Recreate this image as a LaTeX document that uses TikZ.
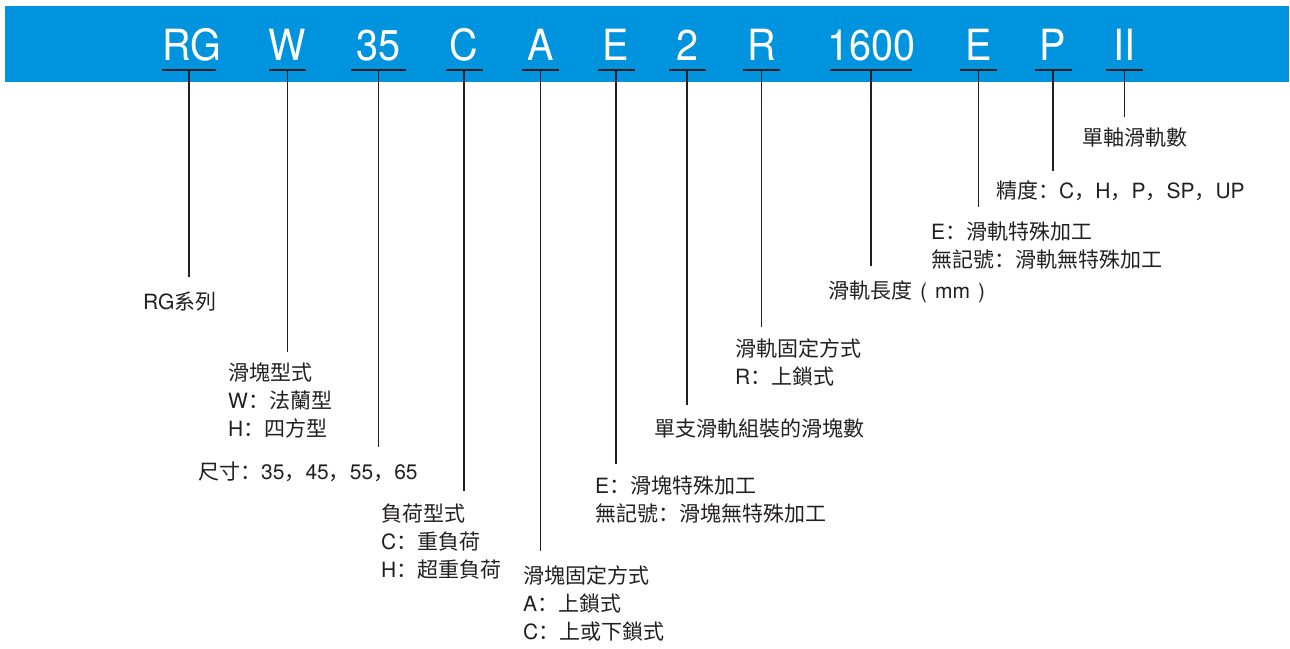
\documentclass[tikz,border=0pt]{standalone}
\usepackage{fontspec}
\setmainfont{TeX Gyre Heros}
\newfontfamily\cjkf{Noto Sans CJK TC}
\newfontfamily\cjkp{Noto Sans CJK SC}
\newfontfamily\barf[FakeStretch=0.92]{TeX Gyre Heros}
\newcommand\zh[1]{{\cjkf #1}}
\newcommand\cln{{\cjkp ：}}
\newcommand\cma{{\cjkp ，}}
\definecolor{barblue}{RGB}{0,148,222}
\definecolor{ink}{HTML}{231F20}
\tikzset{
  codetext/.style={text=white, font=\barf\fontsize{43}{43}\selectfont, inner sep=0pt, anchor=base},
  uline/.style={fill=ink, inner sep=0pt, minimum height=2pt, minimum width=#1},
  uline/.default=37pt,
  lab/.style={text=ink, font=\fontsize{21}{28}\selectfont, inner xsep=0pt, inner ysep=0pt, anchor=base west},
  conn/.style={draw=ink, line width=1.2pt},
}
\begin{document}
\begin{tikzpicture}[x=1pt,y=1pt]
\useasboundingbox (0,0) rectangle (1290,-648);
\fill[barblue] (5,-6) rectangle (1289,-81.5);

% code letters
\node[codetext] (c1) at (191.5,-60) {RG};
\node[codetext] (c2) at (287.5,-60) {W};
\node[codetext] (c3) at (378.5,-60) {35};
\node[codetext] (c4) at (464,-60) {C};
\node[codetext] (c5) at (540.5,-60) {A};
\node[codetext] (c6) at (616,-60) {E};
\node[codetext] (c7) at (687,-60) {2};
\node[codetext] (c8) at (761.5,-60) {R};
\node[codetext] (c9) at (871,-60) {1600};
\node[codetext] (c10) at (978.5,-60) {E};
\node[codetext] (c11) at (1053,-60) {P};
\node[codetext] (c12) at (1124.5,-60) {II};

% underlines
\node[uline=54pt] (u1) at (189,-70) {};
\node[uline] (u2) at (287.5,-70) {};
\node[uline=55pt] (u3) at (378.5,-70) {};
\node[uline] (u4) at (464,-70) {};
\node[uline] (u5) at (540.5,-70) {};
\node[uline] (u6) at (616,-70) {};
\node[uline] (u7) at (687,-70) {};
\node[uline] (u8) at (761.5,-70) {};
\node[uline=82pt] (u9) at (871,-70) {};
\node[uline] (u10) at (978.5,-70) {};
\node[uline] (u11) at (1053,-70) {};
\node[uline] (u12) at (1124.5,-70) {};

% labels
\node[lab, inner ysep=14pt] (l1) at (143,-309) {RG\zh{系列}};

\node[lab, inner ysep=10pt] (l2) at (228,-380) {\zh{滑塊型式}};
\node[lab] (l2b) at (228,-408) {W\cln\zh{法蘭型}};
\node[lab] (l2c) at (228,-436) {H\cln\zh{四方型}};

\node[lab, inner ysep=14pt] (l3) at (198,-479) {\zh{尺寸}\cln 35\cma 45\cma 55\cma 65};

\node[lab, inner ysep=12pt] (l4) at (381,-521) {\zh{負荷型式}};
\node[lab] (l4b) at (381,-549) {C\cln\zh{重負荷}};
\node[lab] (l4c) at (381,-577) {H\cln\zh{超重負荷}};

\node[lab, inner ysep=14pt] (l5) at (523,-583) {\zh{滑塊固定方式}};
\node[lab] (l5b) at (523,-611) {A\cln\zh{上鎖式}};
\node[lab] (l5c) at (523,-639) {C\cln\zh{上或下鎖式}};

\node[lab, inner ysep=11pt] (l6) at (595,-493) {E\cln\zh{滑塊特殊加工}};
\node[lab] (l6b) at (595,-521) {\zh{無記號}\cln\zh{滑塊無特殊加工}};

\node[lab, inner ysep=13pt] (l7) at (654,-436) {\zh{單支滑軌組裝的滑塊數}};

\node[lab, inner ysep=11pt] (l8) at (735,-356) {\zh{滑軌固定方式}};
\node[lab] (l8b) at (735,-384) {R\cln\zh{上鎖式}};

\node[lab, inner ysep=14pt] (l9) at (828,-298) {\zh{滑軌長度}\hspace{8pt}(\hspace{8pt}mm\hspace{8pt})};

\node[lab, inner ysep=14pt] (l10) at (931,-239) {E\cln\zh{滑軌特殊加工}};
\node[lab] (l10b) at (931,-267) {\zh{無記號}\cln\zh{滑軌無特殊加工}};

\node[lab, inner ysep=9pt] (l11) at (996,-198) {\zh{精度}\cln C\cma H\cma P\cma SP\cma UP};

\node[lab, inner ysep=10pt] (l12) at (1082,-145) {\zh{單軸滑軌數}};

% connectors
\foreach \i in {1,...,12}{
  \draw[conn] (u\i.center) -- (u\i.center |- l\i.north);
}
\end{tikzpicture}
\end{document}
